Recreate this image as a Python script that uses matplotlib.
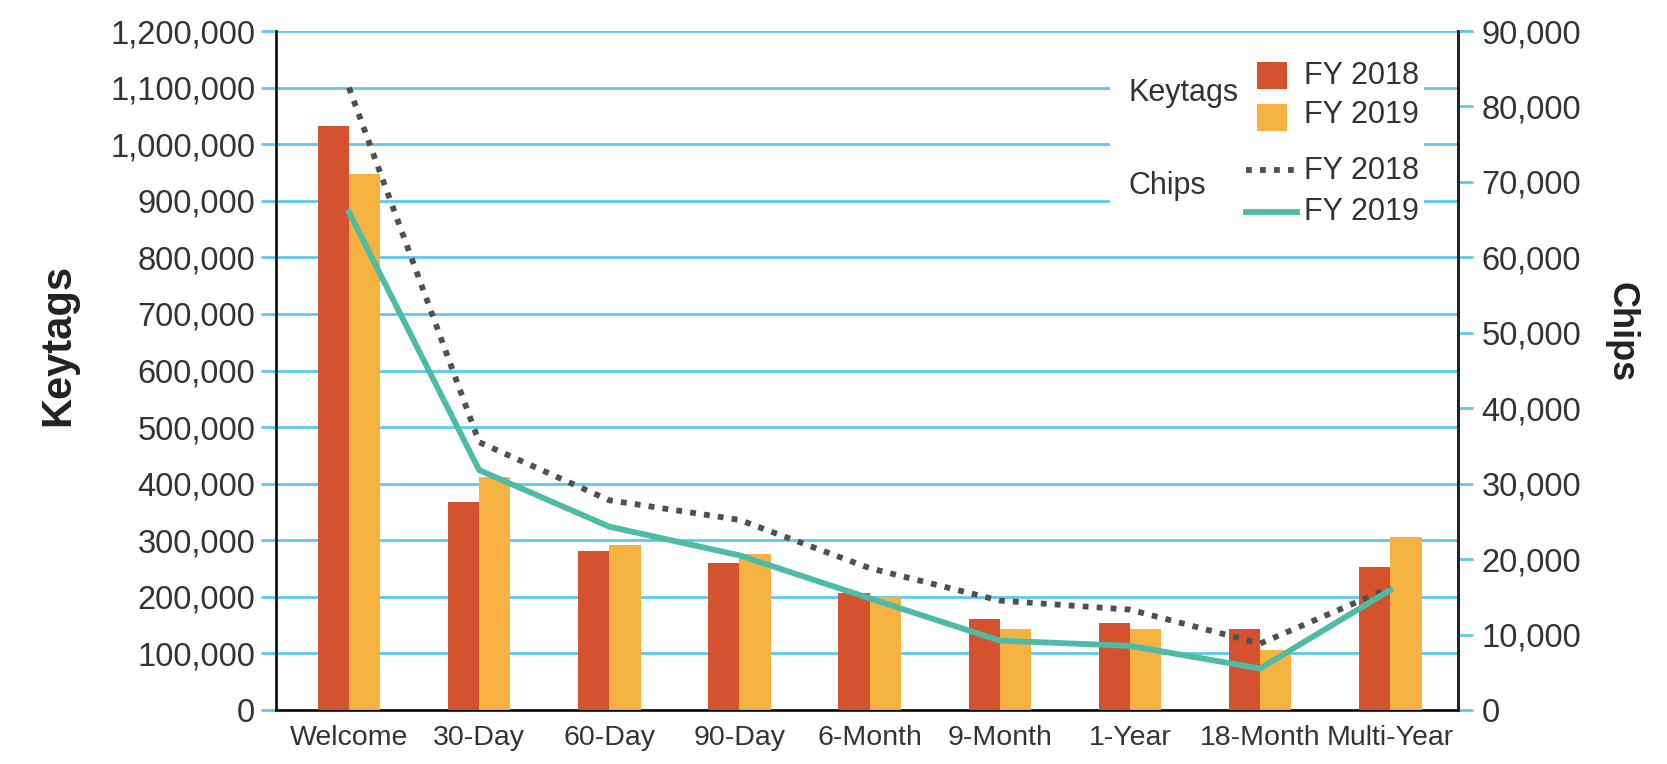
import matplotlib.pyplot as plt
from matplotlib.patches import Rectangle
from matplotlib.lines import Line2D
from matplotlib.ticker import FuncFormatter
import numpy as np

# values
categories = ["Welcome", "30-Day", "60-Day", "90-Day", "6-Month",
              "9-Month", "1-Year", "18-Month", "Multi-Year"]
keytags_2018 = [1032000, 367000, 281000, 259000, 206000, 160000, 153000, 144000, 253000]
keytags_2019 = [947000, 412000, 292000, 276000, 199000, 144000, 144000, 106000, 306000]
chips_2018 = [82500, 35500, 27800, 25200, 18800, 14500, 13300, 8800, 16200]
chips_2019 = [66000, 31800, 24300, 20500, 14800, 9200, 8500, 5500, 15900]

red = "#D4522E"
yellow = "#F5B240"
teal = "#4DBBA5"
dotgray = "#505050"
grid_blue = "#5EC8EF"
txt = "#333333"

plt.rcParams['font.family'] = ['Liberation Sans', 'DejaVu Sans']

fig = plt.figure(figsize=(16.67, 7.64), dpi=100)
ax = fig.add_axes([0.1656, 0.0707, 0.8746 - 0.1656, 0.9594 - 0.0707])
ax2 = ax.twinx()

x = np.arange(len(categories))
w = 0.24

# keytag bars
ax.bar(x - w / 2, keytags_2018, w, color=red, zorder=3)
ax.bar(x + w / 2, keytags_2019, w, color=yellow, zorder=3)

ax.set_xlim(-0.56, 8.52)
ax.set_ylim(0, 1200000)
ax.set_yticks(np.arange(0, 1200001, 100000))
ax.yaxis.set_major_formatter(FuncFormatter(lambda v, p: f"{int(v):,}"))
ax.grid(axis="y", color=grid_blue, linewidth=2, zorder=0)
ax.set_axisbelow(True)
ax.set_xticks(x)
ax.set_xticklabels(categories, fontsize=20.5, color=txt)
ax.tick_params(axis="x", length=0, pad=11)
ax.tick_params(axis="y", length=11, width=2, color=grid_blue, pad=4,
               labelsize=23.5, labelcolor=txt)
for side in ["left", "bottom", "right"]:
    ax.spines[side].set_linewidth(2)
    ax.spines[side].set_color("#222222")
ax.spines["top"].set_visible(False)

# chip lines
ax2.plot(x, chips_2018, color=dotgray, linewidth=4.2,
         linestyle=(0, (1, 1.4)), dash_capstyle="butt", zorder=4)
ax2.plot(x, chips_2019, color=teal, linewidth=4.2, zorder=5)
ax2.set_ylim(0, 90000)
ax2.set_yticks(np.arange(0, 90001, 10000))
ax2.yaxis.set_major_formatter(FuncFormatter(lambda v, p: f"{int(v):,}"))
ax2.tick_params(axis="y", length=11, width=2, color=grid_blue, pad=6,
                labelsize=23.5, labelcolor=txt)
ax2.spines["right"].set_linewidth(2)
ax2.spines["right"].set_color("#222222")
ax2.spines["top"].set_visible(False)

# axis titles
fig.text(0.035, 0.549, "Keytags", rotation=90, ha="center", va="center",
         fontsize=30, fontweight="bold", color="#222222")
fig.text(0.9726, 0.565, "Chips", rotation=-90, ha="center", va="center",
         fontsize=26, fontweight="bold", color="#222222")

# legend drawn by hand so the two groups keep their side labels
tr = ax2.transAxes
ax2.add_patch(Rectangle((0.706, 0.712), 0.265, 0.245, transform=tr,
                        facecolor="white", edgecolor="none", zorder=6))
ax2.add_patch(Rectangle((0.830, 0.914), 0.025, 0.040, transform=tr,
                        facecolor=red, edgecolor="none", zorder=7))
ax2.add_patch(Rectangle((0.830, 0.853), 0.025, 0.040, transform=tr,
                        facecolor=yellow, edgecolor="none", zorder=7))
ax2.add_line(Line2D([0.821, 0.864], [0.796, 0.796], transform=tr, color=dotgray,
                    linewidth=4.2, linestyle=(0, (1, 1.4)), dash_capstyle="butt", zorder=7))
ax2.add_line(Line2D([0.821, 0.864], [0.733, 0.733], transform=tr, color=teal,
                    linewidth=4.2, zorder=7))
leg_kw = dict(transform=tr, fontsize=22, color=txt, va="center", zorder=8)
ax2.text(0.721, 0.908, "Keytags", ha="left", **leg_kw)
ax2.text(0.721, 0.772, "Chips", ha="left", **leg_kw)
ax2.text(0.870, 0.934, "FY 2018", ha="left", **leg_kw)
ax2.text(0.870, 0.876, "FY 2019", ha="left", **leg_kw)
ax2.text(0.870, 0.794, "FY 2018", ha="left", **leg_kw)
ax2.text(0.870, 0.734, "FY 2019", ha="left", **leg_kw)

fig.savefig("out.png", dpi=100)
plt.close(fig)
